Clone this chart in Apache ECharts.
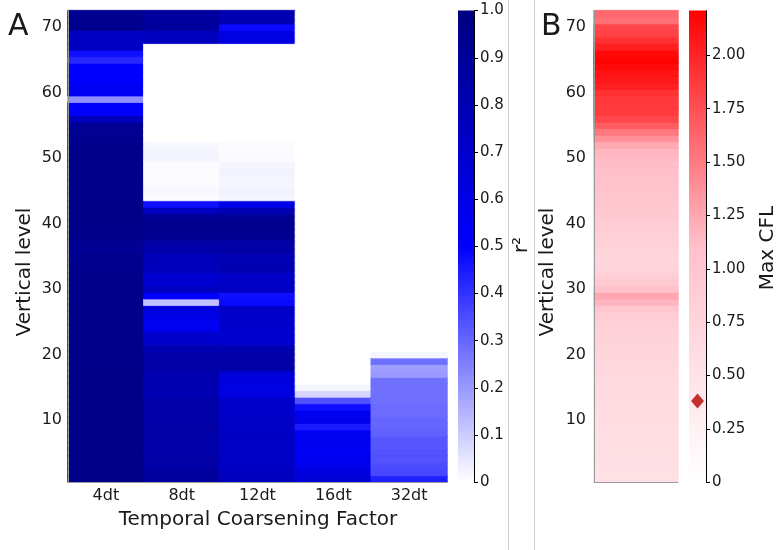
<!DOCTYPE html>
<html><head><meta charset="utf-8">
<script src="https://cdn.jsdelivr.net/npm/echarts@6/dist/echarts.min.js"></script>
<style>html,body{margin:0;padding:0;background:#fff}#c{width:779px;height:550px}</style>
</head><body><div id="c"></div>
<script>
// ---------- data ----------
const factors = ['4dt', '8dt', '12dt', '16dt', '32dt'];
const levels = ['1','2','3','4','5','6','7','8','9','10','11','12','13','14','15','16','17','18','19','20',
  '21','22','23','24','25','26','27','28','29','30','31','32','33','34','35','36','37','38','39','40',
  '41','42','43','44','45','46','47','48','49','50','51','52','53','54','55','56','57','58','59','60',
  '61','62','63','64','65','66','67','68','69','70','71','72'];
// r² per vertical level (level 1 first)
const r2_4dt = [0.97,0.97,0.97,0.97,0.97,0.97,0.97,0.97,0.97,0.97,
  0.97,0.97,0.97,0.97,0.97,0.97,0.97,0.96,0.96,0.96,
  0.96,0.96,0.96,0.96,0.96,0.96,0.96,0.96,0.95,0.95,
  0.95,0.95,0.95,0.94,0.94,0.91,0.92,0.95,0.96,0.96,
  0.97,0.97,0.97,0.96,0.96,0.96,0.96,0.96,0.96,0.96,
  0.96,0.95,0.94,0.93,0.92,0.76,0.52,0.50,0.22,0.55,
  0.55,0.50,0.50,0.50,0.42,0.47,0.74,0.74,0.74,0.94,
  0.94,0.93];
const r2_8dt = [0.88,0.88,0.85,0.85,0.84,0.84,0.84,0.85,0.85,0.84,
  0.84,0.84,0.83,0.80,0.80,0.80,0.81,0.85,0.85,0.84,
  0.80,0.70,0.70,0.56,0.55,0.60,0.63,0.12,0.50,0.75,
  0.68,0.68,0.76,0.77,0.77,0.83,0.86,0.93,0.94,0.94,
  0.92,0.75,0.47,0.01,0.015,0.01,0.005,0.005,0.01,0.02,
  0.02,0.015,0,0,0,0,0,0,0,0,
  0,0,0,0,0,0,0,0.75,0.75,0.88,
  0.88,0.88];
const r2_12dt = [0.75,0.74,0.73,0.72,0.72,0.72,0.73,0.73,0.72,0.72,
  0.71,0.70,0.70,0.62,0.62,0.63,0.64,0.84,0.85,0.84,
  0.82,0.68,0.68,0.70,0.70,0.70,0.72,0.48,0.47,0.73,
  0.72,0.72,0.80,0.80,0.79,0.85,0.85,0.93,0.94,0.94,
  0.92,0.80,0.60,0.02,0.025,0.02,0.02,0.025,0.02,0.01,
  0.01,0.005,0,0,0,0,0,0,0,0,
  0,0,0,0,0,0,0,0.62,0.62,0.48,
  0.80,0.80];
const r2_16dt = [0.65,0.63,0.58,0.56,0.55,0.55,0.56,0.55,0.45,0.57,
  0.55,0.47,0.34,0.08,0.02,0,0,0,0,0,
  0,0,0,0,0,0,0,0,0,0,
  0,0,0,0,0,0,0,0,0,0,
  0,0,0,0,0,0,0,0,0,0,
  0,0,0,0,0,0,0,0,0,0,
  0,0,0,0,0,0,0,0,0,0,
  0,0];
const r2_32dt = [0.44,0.36,0.35,0.34,0.34,0.33,0.33,0.31,0.30,0.30,
  0.29,0.29,0.28,0.28,0.28,0.28,0.20,0.19,0.28,0.02,
  0,0,0,0,0,0,0,0,0,0,
  0,0,0,0,0,0,0,0,0,0,
  0,0,0,0,0,0,0,0,0,0,
  0,0,0,0,0,0,0,0,0,0,
  0,0,0,0,0,0,0,0,0,0,
  0,0];
// Max CFL per vertical level (level 1 first)
const maxCfl = [0.55,0.55,0.56,0.56,0.57,0.57,0.58,0.58,0.60,0.60,
  0.61,0.62,0.63,0.64,0.65,0.66,0.68,0.70,0.72,0.74,
  0.76,0.78,0.80,0.82,0.85,0.90,1.00,1.17,1.25,1.10,
  0.95,0.88,0.78,0.75,0.76,0.78,0.82,0.85,0.88,0.92,
  0.95,0.97,1.00,1.02,1.05,1.07,1.08,1.10,1.12,1.14,
  1.16,1.24,1.38,1.52,1.68,1.80,1.87,1.88,1.88,1.93,
  2.03,2.07,2.10,2.16,2.20,2.16,2.03,1.93,1.83,1.80,
  1.56,1.61];
const cflMarker = 0.38;
const r2Range = [0, 1];
const cflRange = [0, 2.21];
const r2Ticks = [0,0.1,0.2,0.3,0.4,0.5,0.6,0.7,0.8,0.9,1.0];
const cflTicks = [0,0.25,0.5,0.75,1.0,1.25,1.5,1.75,2.0];
const levelTickEvery = 10;

// ---------- build ----------
const blues = ['#ffffff', '#0000ff', '#000080'];
const reds = ['#ffffff', '#ffc0cb', '#ff0000'];
const cmap = (v, rng, cols) => echarts.color.lerp(Math.max(0, Math.min(1, (v - rng[0]) / (rng[1] - rng[0]))), cols);
const cell = (x, y, v, rng, cols) => {
  const c = cmap(v, rng, cols);
  return { value: [x, y, v], itemStyle: { color: c, borderColor: c, borderWidth: 0.8 } };
};
const r2Cols = [r2_4dt, r2_8dt, r2_12dt, r2_16dt, r2_32dt];
const heatA = [];
r2Cols.forEach((col, i) => col.forEach((v, j) => heatA.push(cell(i, j, v, r2Range, blues))));
const heatB = maxCfl.map((v, j) => cell(0, j, v, cflRange, reds));

const FONT = 'DejaVu Sans';
const TXT = '#1a1a1a';
const AX = '#9a9a9a';
const TOP = 10.6, H = 471.5;
const TICK_FS = 16, CB_FS = 15, TITLE_FS = 20;

const levelAxis = (gi, margin) => ({
  type: 'category', gridIndex: gi, data: levels, z: 5,
  axisLine: { show: true, lineStyle: { color: AX, width: 1 } },
  axisTick: { show: false },
  splitLine: { show: false },
  axisLabel: { interval: (idx, val) => Number(val) % levelTickEvery === 0,
    fontFamily: FONT, fontSize: TICK_FS, color: TXT, margin: margin }
});
const cbAxis = (gi, rng, ticks, dec) => ({
  type: 'value', gridIndex: gi, position: 'right', min: rng[0], max: rng[1], z: 5,
  axisLine: { show: true, onZero: false, lineStyle: { color: '#000', width: 1 } },
  axisTick: { show: true, length: 4, customValues: ticks, lineStyle: { color: '#000' } },
  splitLine: { show: false },
  axisLabel: { customValues: ticks, margin: 6, fontFamily: FONT, fontSize: CB_FS, color: TXT,
    formatter: v => v === 0 ? '0' : v.toFixed(dec) }
});
const grad = (cols) => new echarts.graphic.LinearGradient(0, 0, 0, 1, [
  { offset: 0, color: cols[2] }, { offset: 0.5, color: cols[1] }, { offset: 1, color: cols[0] }]);
const titleFont = TITLE_FS + 'px "DejaVu Sans"';

const chart = echarts.init(document.getElementById('c'), null, { renderer: 'canvas' });
chart.setOption({
  animation: false,
  backgroundColor: '#fff',
  textStyle: { fontFamily: FONT },
  grid: [
    { left: 68, top: TOP, width: 379, height: H },
    { left: 458, top: TOP, width: 16, height: H },
    { left: 594, top: TOP, width: 84, height: H },
    { left: 689, top: TOP, width: 17, height: H }
  ],
  xAxis: [
    { type: 'category', gridIndex: 0, data: factors, z: 5,
      axisLine: { show: true, lineStyle: { color: AX, width: 1 } },
      axisTick: { show: false }, splitLine: { show: false },
      axisLabel: { fontFamily: FONT, fontSize: TICK_FS, color: TXT, margin: 6 } },
    { type: 'category', gridIndex: 1, data: [''], show: false },
    { type: 'category', gridIndex: 2, data: ['Max CFL'], z: 5,
      axisLine: { show: true, lineStyle: { color: AX, width: 1 } },
      axisTick: { show: false }, axisLabel: { show: false }, splitLine: { show: false } },
    { type: 'category', gridIndex: 3, data: [''], show: false }
  ],
  yAxis: [
    levelAxis(0, 6),
    cbAxis(1, r2Range, r2Ticks, 1),
    levelAxis(2, 8),
    cbAxis(3, cflRange, cflTicks, 2)
  ],
  series: [
    { type: 'heatmap', xAxisIndex: 0, yAxisIndex: 0, data: heatA, emphasis: { disabled: true } },
    { type: 'heatmap', xAxisIndex: 2, yAxisIndex: 2, data: heatB, emphasis: { disabled: true } },
    { type: 'bar', xAxisIndex: 1, yAxisIndex: 1, data: [r2Range[1]], barWidth: '100%', itemStyle: { color: grad(blues) }, silent: true },
    { type: 'bar', xAxisIndex: 3, yAxisIndex: 3, data: [cflRange[1]], barWidth: '100%', itemStyle: { color: grad(reds) }, silent: true },
    { type: 'scatter', xAxisIndex: 3, yAxisIndex: 3, data: [[0, cflMarker]], symbol: 'diamond', symbolSize: [13, 15], itemStyle: { color: '#b80000' }, z: 10, silent: true }
  ],
  graphic: [
    { type: 'line', shape: { x1: 508.5, y1: 0, x2: 508.5, y2: 550 }, style: { stroke: '#d0d0d0', lineWidth: 1 } },
    { type: 'line', shape: { x1: 534.5, y1: 0, x2: 534.5, y2: 550 }, style: { stroke: '#d0d0d0', lineWidth: 1 } },
    { type: 'text', x: 8, y: 12, style: { text: 'A', font: '30px "DejaVu Sans"', fill: TXT } },
    { type: 'text', x: 541, y: 12, style: { text: 'B', font: '30px "DejaVu Sans"', fill: TXT } },
    { type: 'text', x: 25, y: 272, rotation: Math.PI / 2, style: { text: 'Vertical level', font: titleFont, fill: TXT, align: 'center', verticalAlign: 'middle' } },
    { type: 'text', x: 548, y: 272, rotation: Math.PI / 2, style: { text: 'Vertical level', font: titleFont, fill: TXT, align: 'center', verticalAlign: 'middle' } },
    { type: 'text', x: 258, y: 520, style: { text: 'Temporal Coarsening Factor', font: titleFont, fill: TXT, align: 'center', verticalAlign: 'middle' } },
    { type: 'text', x: 522, y: 245, rotation: Math.PI / 2, style: { text: 'r²', font: titleFont, fill: TXT, align: 'center', verticalAlign: 'middle' } },
    { type: 'text', x: 768, y: 248, rotation: Math.PI / 2, style: { text: 'Max CFL', font: titleFont, fill: TXT, align: 'center', verticalAlign: 'middle' } }
  ]
});
</script></body></html>
